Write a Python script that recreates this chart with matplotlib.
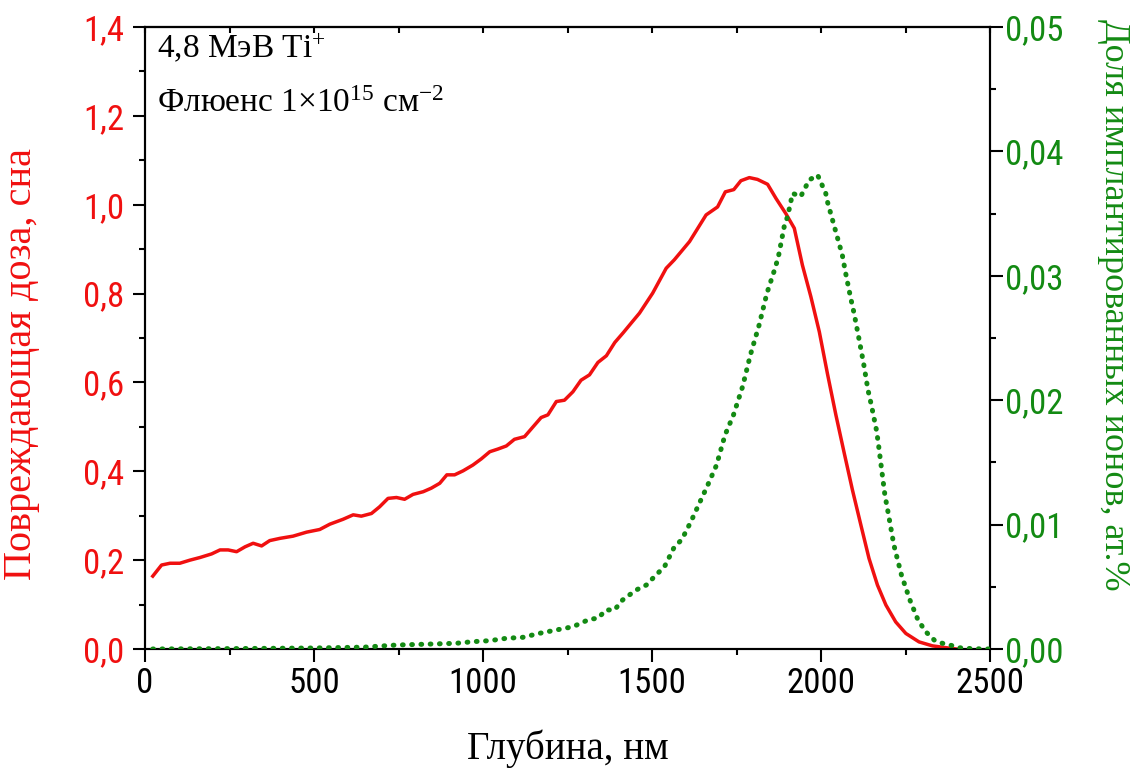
import matplotlib
matplotlib.use("Agg")
import matplotlib.pyplot as plt
from matplotlib import font_manager
from matplotlib.font_manager import FontProperties
from matplotlib.ticker import MultipleLocator, FuncFormatter

# ---------------- data ----------------
depth_dose = [23, 49, 74, 103, 133, 163, 197, 222, 246, 271, 296, 320, 345, 369, 399,
              438, 478, 517, 547, 586, 616, 640, 670, 694, 719, 744, 768, 793, 823, 847,
              872, 893, 916, 941, 970, 995, 1020, 1044, 1069, 1093, 1123, 1148, 1172, 1192,
              1217, 1241, 1266, 1290, 1315, 1340, 1365, 1390, 1415, 1440, 1463, 1502, 1542,
              1566, 1611, 1660, 1694, 1717, 1742, 1763, 1788, 1812, 1842, 1867, 1896, 1921,
              1945, 1970, 1995, 2019, 2044, 2069, 2093, 2118, 2142, 2167, 2192, 2221, 2251,
              2290, 2330, 2369, 2400]
dose = [0.164, 0.189, 0.193, 0.193, 0.200, 0.206, 0.214, 0.223, 0.223, 0.219, 0.230,
        0.238, 0.232, 0.244, 0.249, 0.254, 0.263, 0.269, 0.281, 0.292, 0.302, 0.299,
        0.305, 0.320, 0.339, 0.341, 0.337, 0.348, 0.354, 0.362, 0.373, 0.392, 0.392,
        0.401, 0.414, 0.428, 0.444, 0.450, 0.457, 0.472, 0.478, 0.500, 0.521, 0.527,
        0.557, 0.560, 0.579, 0.605, 0.617, 0.645, 0.660, 0.690, 0.712, 0.735, 0.756,
        0.801, 0.857, 0.876, 0.917, 0.977, 0.995, 1.029, 1.034, 1.054, 1.061, 1.057,
        1.046, 1.014, 0.980, 0.947, 0.864, 0.793, 0.714, 0.620, 0.527, 0.440, 0.358,
        0.279, 0.204, 0.144, 0.099, 0.061, 0.035, 0.016, 0.007, 0.003, 0.000]

depth_ions = [23, 250, 500, 650, 744, 823, 921, 970, 1020, 1069, 1118, 1167, 1217, 1266,
              1315, 1340, 1364, 1389, 1413, 1453, 1483, 1512, 1537, 1564, 1589, 1615,
              1640, 1665, 1691, 1716, 1741, 1768, 1791, 1817, 1840, 1864, 1874, 1892,
              1901, 1916, 1940, 1965, 1990, 2014, 2019, 2041, 2063, 2073, 2088, 2098,
              2113, 2126, 2139, 2149, 2164, 2169, 2179, 2189, 2199, 2213, 2218, 2238,
              2263, 2287, 2310, 2335, 2359, 2384, 2409, 2450, 2500]
ions = [0.00000, 0.00003, 0.00008, 0.00015, 0.00032, 0.00038, 0.00046, 0.00059,
        0.00067, 0.00086, 0.00094, 0.00126, 0.00153, 0.00179, 0.00239, 0.00247,
        0.00314, 0.00314, 0.00394, 0.00474, 0.00514, 0.00595, 0.00662, 0.00809,
        0.00884, 0.01023, 0.01171, 0.01318, 0.01479, 0.01720, 0.01881, 0.02109,
        0.02363, 0.02605, 0.02860, 0.03060, 0.03154, 0.03408, 0.03475, 0.03663,
        0.03637, 0.03770, 0.03810, 0.03663, 0.03596, 0.03381, 0.03167, 0.03020,
        0.02819, 0.02697, 0.02484, 0.02296, 0.02082, 0.01961, 0.01760, 0.01666,
        0.01451, 0.01238, 0.01091, 0.00876, 0.00809, 0.00595, 0.00394, 0.00233,
        0.00139, 0.00072, 0.00046, 0.00030, 0.00010, 0.00002, 0.00000]

x_ticks = [0, 500, 1000, 1500, 2000, 2500]
left_ticks = [0.0, 0.2, 0.4, 0.6, 0.8, 1.0, 1.2, 1.4]
right_ticks = [0.00, 0.01, 0.02, 0.03, 0.04, 0.05]

x_label = "Глубина, нм"
left_label = "Повреждающая доза, сна"
right_label = "Доля имплантированных ионов, ат.%"
note1 = "4,8 МэВ Ti$^{+}$"
note2 = "Флюенс 1×10$^{15}$ см$^{-2}$"

# ---------------- style ----------------
RED = "#f01010"
GREEN = "#138a13"
serif = "Liberation Serif"

# pick a narrow sans font for tick labels if one is installed
tick_fp = None
pref = ["Liberation Sans Narrow", "Arial Narrow", "Roboto Condensed", "Noto Sans",
        "Open Sans", "DejaVu Sans", "Roboto", "Inter", "Lato"]
ttf = font_manager.fontManager.ttflist
narrow = [f for f in ttf
          if (f.stretch in ("condensed", "semi-condensed", "extra-condensed")
              or "Narrow" in f.name or "Condensed" in f.name)
          and f.style == "normal" and f.weight in (400, "normal", "regular")]
for p in pref:
    hit = [f for f in narrow if f.name == p]
    if hit:
        tick_fp = FontProperties(fname=hit[0].fname)
        break
if tick_fp is None and narrow:
    tick_fp = FontProperties(fname=narrow[0].fname)
if tick_fp is None:
    tick_fp = FontProperties(family="Liberation Sans")
    tick_size = 21
else:
    tick_size = 25
tick_fp.set_size(tick_size)

plt.rcParams["mathtext.fontset"] = "custom"
plt.rcParams["mathtext.rm"] = serif
plt.rcParams["mathtext.it"] = serif
plt.rcParams["mathtext.default"] = "rm"

fig = plt.figure(figsize=(11.4, 7.69), dpi=100)
ax = fig.add_axes([145 / 1140, 1 - 649 / 769, (990 - 145) / 1140, (649 - 27) / 769])
ax2 = ax.twinx()

ax.plot(depth_dose, dose, color=RED, lw=2.5, solid_joinstyle="round", zorder=3)
ax2.plot(depth_ions, ions, color=GREEN, lw=3.6, linestyle=(0, (0.15, 1.7)),
         dash_capstyle="round", zorder=3)

ax.set_xlim(0, 2500)
ax.set_ylim(0, 1.4)
ax2.set_ylim(0, 0.05)

comma = lambda fmt: FuncFormatter(lambda v, p: (fmt % v).replace(".", ","))

ax.set_xticks(x_ticks)
ax.xaxis.set_minor_locator(MultipleLocator(250))
ax.set_yticks(left_ticks)
ax.yaxis.set_major_formatter(comma("%.1f"))
ax.yaxis.set_minor_locator(MultipleLocator(0.1))
ax2.set_yticks(right_ticks)
ax2.yaxis.set_major_formatter(comma("%.2f"))
ax2.yaxis.set_minor_locator(MultipleLocator(0.005))

for a in (ax, ax2):
    for s in a.spines.values():
        s.set_linewidth(1.5)

ax.tick_params(axis="x", which="major", direction="out", length=9, width=1.5, pad=4)
ax.tick_params(axis="x", which="minor", direction="out", length=4, width=1.5)
ax.tick_params(axis="y", which="major", direction="out", length=9, width=1.5, pad=6,
               labelcolor=RED)
ax.tick_params(axis="y", which="minor", direction="out", length=4.5, width=1.5)
ax2.tick_params(axis="y", which="major", direction="out", length=9, width=1.5, pad=2,
                labelcolor=GREEN)
ax2.tick_params(axis="y", which="minor", direction="out", length=4.5, width=1.5)

for lab in ax.get_xticklabels() + ax.get_yticklabels() + ax2.get_yticklabels():
    lab.set_fontproperties(tick_fp)

top = ax.secondary_xaxis("top")
top.set_xticks(list(range(0, 2501, 250)))
top.tick_params(axis="x", direction="in", length=4, width=1.5, labeltop=False)
top.spines["top"].set_linewidth(1.5)

ax.set_xlabel(x_label, family=serif, fontsize=28, color="black", va="center")
ax.xaxis.set_label_coords(0.5, -0.16)
ax.set_ylabel(left_label, family=serif, fontsize=29, color=RED, va="center")
ax.yaxis.set_label_coords(-0.146, 0.458)
ax2.set_ylabel(right_label, family=serif, fontsize=26, color=GREEN, rotation=270,
               va="center")
ax2.yaxis.set_label_coords(1.1456, 0.553)

ax.text(0.014, 0.952, note1, transform=ax.transAxes, family=serif, fontsize=24,
        va="baseline", ha="left")
ax.text(0.014, 0.863, note2, transform=ax.transAxes, family=serif, fontsize=24,
        va="baseline", ha="left")

fig.savefig("out.png", dpi=100)
